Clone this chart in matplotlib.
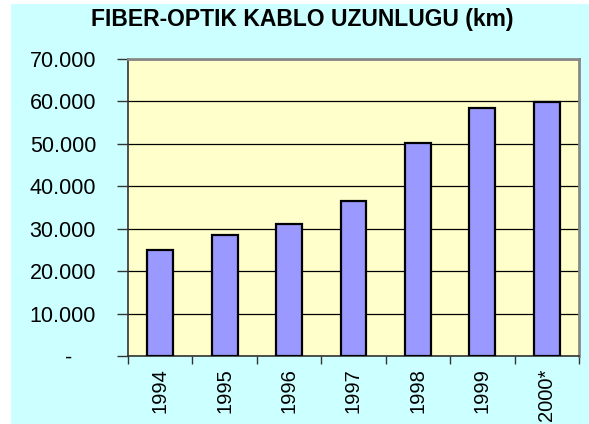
import matplotlib
matplotlib.use("Agg")
import matplotlib.pyplot as plt
from matplotlib.patches import Rectangle
import numpy as np

plt.rcParams['font.family'] = ['Liberation Sans', 'DejaVu Sans']

years = ['1994', '1995', '1996', '1997', '1998', '1999', '2000*']
cable_km = [24900, 28500, 31100, 36600, 50300, 58500, 59800]
y_ticks = [0, 10000, 20000, 30000, 40000, 50000, 60000, 70000]
y_labels = ['-    ', '10.000', '20.000', '30.000', '40.000', '50.000', '60.000', '70.000']

fig = plt.figure(figsize=(5.89, 4.24), dpi=100, facecolor='white')
# cyan chart area, small white strip on left and top like the source
bg = Rectangle((11 / 589, 0), 1, 420 / 424, transform=fig.transFigure,
               facecolor='#CCFFFF', edgecolor='none', zorder=-10)
fig.add_artist(bg)

ax = fig.add_axes([128 / 589, 1 - 356 / 424, (579 - 128) / 589, (356 - 59) / 424])
ax.set_zorder(1)
ax.set_facecolor('#FFFFCC')

x = np.arange(len(years))
ax.bar(x, cable_km, width=0.4, color='#9999FF', edgecolor='black', linewidth=1.6, zorder=3)

ax.set_xlim(-0.5, len(years) - 0.5)
ax.set_ylim(0, 70000)
ax.set_yticks(y_ticks)
ax.set_yticklabels(y_labels, fontsize=15.5)
ax.yaxis.grid(True, color='black', linewidth=0.9, zorder=1)

# category boundary ticks, labels in the middle
ax.set_xticks(np.arange(len(years) + 1) - 0.5)
ax.set_xticklabels([])
ax.set_xticks(x, minor=True)
ax.set_xticklabels(years, minor=True, rotation=90, fontsize=14.5)
ax.tick_params(axis='x', which='major', length=6, width=1, color='#333333', direction='out')
ax.tick_params(axis='x', which='minor', length=0, pad=9)
ax.tick_params(axis='y', length=8, width=1, color='#333333', pad=15)

for side in ['left', 'bottom']:
    ax.spines[side].set_color('#333333')
    ax.spines[side].set_linewidth(1.2)
for side in ['top', 'right']:
    ax.spines[side].set_color('#888888')
    ax.spines[side].set_linewidth(2)

fig.text(0.513, 0.953, 'FIBER-OPTIK KABLO UZUNLUGU (km)', ha='center', va='center',
         fontsize=16.5, fontweight='bold')

fig.savefig('out.png', dpi=100, facecolor=fig.get_facecolor())
